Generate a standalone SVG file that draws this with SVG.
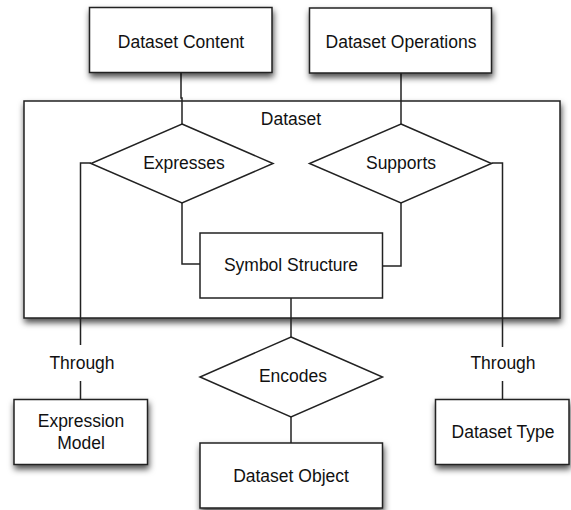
<svg xmlns="http://www.w3.org/2000/svg" width="571" height="510" viewBox="0 0 571 510">
<defs>
<filter id="sh" x="-10%" y="-10%" width="125%" height="140%">
<feDropShadow dx="1" dy="4" stdDeviation="3" flood-color="#000" flood-opacity="0.7"/>
</filter>
</defs>
<style>
.box{fill:#fff;stroke:#222;stroke-width:1.5}
.sbox{fill:#fff;stroke:#222;stroke-width:1.5;filter:url(#sh)}
.dia{fill:#fff;stroke:#222;stroke-width:1.5}
.ln{fill:none;stroke:#222;stroke-width:1.5}
text{font-family:"Liberation Sans",Arial,sans-serif;font-size:17.5px;fill:#111;text-anchor:middle}
</style>
<g id="dataset">
<rect class="sbox" x="24" y="101" width="536" height="217"/>
<text x="291" y="125">Dataset</text>
</g>
<g id="connectors">
<polyline class="ln" points="181,72 181,98 182,98 182,124"/>
<line class="ln" x1="401" y1="73" x2="401" y2="124"/>
<polyline class="ln" points="182,203 182,264 200,264"/>
<polyline class="ln" points="401,203 401,266 382.5,266"/>
<line class="ln" x1="291" y1="298" x2="291" y2="337"/>
<line class="ln" x1="291" y1="417" x2="291" y2="443"/>
<polyline class="ln" points="91,163 80.5,163 80.5,345"/>
<line class="ln" x1="80.5" y1="381" x2="80.5" y2="399"/>
<polyline class="ln" points="491.5,163 502.5,163 502.5,347"/>
<line class="ln" x1="502.5" y1="381" x2="502.5" y2="399"/>
<text x="82" y="369">Through</text>
<text x="503" y="369">Through</text>
</g>
<g id="dataset-content">
<rect class="sbox" x="89.5" y="7.5" width="182.5" height="65"/>
<text x="181" y="48">Dataset Content</text>
</g>
<g id="dataset-operations">
<rect class="sbox" x="309.5" y="8" width="182" height="65"/>
<text x="401" y="48">Dataset Operations</text>
</g>
<g id="expresses">
<polygon class="dia" points="182,124 273,163.5 182,203 91,163.5"/>
<text x="184" y="169">Expresses</text>
</g>
<g id="supports">
<polygon class="dia" points="401,124 491.5,163.5 401,203 309.5,163.5"/>
<text x="401" y="169">Supports</text>
</g>
<g id="symbol-structure">
<rect class="box" x="200" y="233" width="182.5" height="65"/>
<text x="291" y="271">Symbol Structure</text>
</g>
<g id="encodes">
<polygon class="dia" points="291,337 382.5,377 291,417 200,377"/>
<text x="293" y="382">Encodes</text>
</g>
<g id="dataset-object">
<rect class="sbox" x="200" y="443" width="182.5" height="65"/>
<text x="291" y="482">Dataset Object</text>
</g>
<g id="expression-model">
<rect class="sbox" x="14" y="399.5" width="133.5" height="65"/>
<text x="81" y="427">Expression</text>
<text x="81" y="449">Model</text>
</g>
<g id="dataset-type">
<rect class="sbox" x="435.5" y="399.5" width="133.5" height="65"/>
<text x="503" y="438">Dataset Type</text>
</g>
</svg>
